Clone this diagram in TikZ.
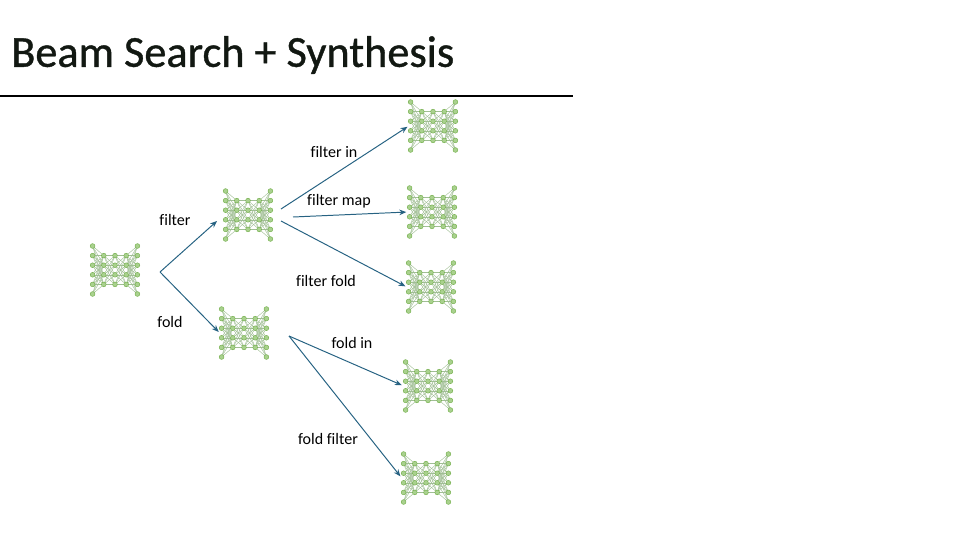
\documentclass[tikz,border=0pt]{standalone}
\usepackage{fontspec}
\setmainfont[Ligatures=NoCommon]{Carlito}
\newfontfamily\titlefont[FakeBold=0.9]{Carlito}
\usetikzlibrary{arrows.meta,positioning}
\definecolor{netfill}{RGB}{169,209,142}
\definecolor{netline}{RGB}{112,173,71}
\definecolor{netedge}{RGB}{160,190,148}
\definecolor{arrc}{RGB}{38,98,130}
\definecolor{titlec}{RGB}{18,24,18}
\tikzset{
  net/.pic={
    \foreach \col/\m/\k in {0/6/4,1/4/4,2/4/4,3/4/6}{
      \foreach \i in {1,...,\m}{
        \foreach \j in {1,...,\k}{
          \draw[netedge,line width=0.3pt] ({(\col-2)*11.2},{(\i-(\m+1)/2)*9.6}) -- ({(\col-1)*11.2},{(\j-(\k+1)/2)*9.6});
        }
      }
    }
    \foreach \col/\m in {0/6,1/4,2/4,3/4,4/6}{
      \foreach \i in {1,...,\m}{
        \filldraw[fill=netfill,draw=netline,line width=0.3pt] ({(\col-2)*11.2},{(\i-(\m+1)/2)*9.6}) circle[radius=1.7pt];
      }
    }
  }
}
\begin{document}
\begin{tikzpicture}[x=0.025cm,y=-0.025cm,
  netbox/.style={minimum width=1.2cm,minimum height=1.25cm,inner sep=0},
  lbl/.style={font=\fontsize{11.4}{14}\selectfont,text height=1.6ex,text depth=0.3ex,inner sep=0},
  arr/.style={arrc,line width=0.7pt,-{Stealth[length=5pt,width=4pt]}}]
\useasboundingbox (0,0) rectangle (960,540);
\node[anchor=west,inner sep=0,font=\titlefont\fontsize{31.5}{36}\selectfont,text=titlec] (title) at (11,55) {Beam Search + Synthesis};
\draw[line width=1.4pt] (0,96) -- (573,96);
% networks
\foreach \name/\x/\y in {n0/115/270,n1/248/215,n2/244/333,n11/433/126,n12/432/212,n13/431/287,n21/428/386,n22/426/478}{
\node[netbox] (\name) at (\x,\y) {};
\pic at (\x,\y) {net};
}
\coordinate (f0) at (160,272);
\coordinate (f1a) at (281,209);
\coordinate (f1b) at (293,217);
\coordinate (f1c) at (281,221);
\coordinate (f2) at (289,336);
\draw[arr,shorten >=6.4pt] (f0) -- (n1.west);
\draw[arr,shorten >=1pt] (f0) -- (n2.west);
\draw[arr,shorten >=1pt] (f1a) -- (n11.west);
\draw[arr,shorten >=1pt] (f1b) -- (n12.west);
\draw[arr,shorten >=1pt] (f1c) -- (n13.west);
\draw[arr,shorten >=1.5pt] (f2) -- (n21.west);
\draw[arr,shorten >=1.5pt] (f2) -- (n22.west);
% labels
\node[lbl] (l1) at (175,221) {filter};
\node[lbl] (l2) at (170,323) {fold};
\node[lbl] (l11) at (334,153) {filter in};
\node[lbl] (l12) at (339,201) {filter map};
\node[lbl] (l13) at (326,282) {filter fold};
\node[lbl] (l21) at (352,344) {fold in};
\node[lbl] (l22) at (328,440) {fold filter};
\end{tikzpicture}
\end{document}
